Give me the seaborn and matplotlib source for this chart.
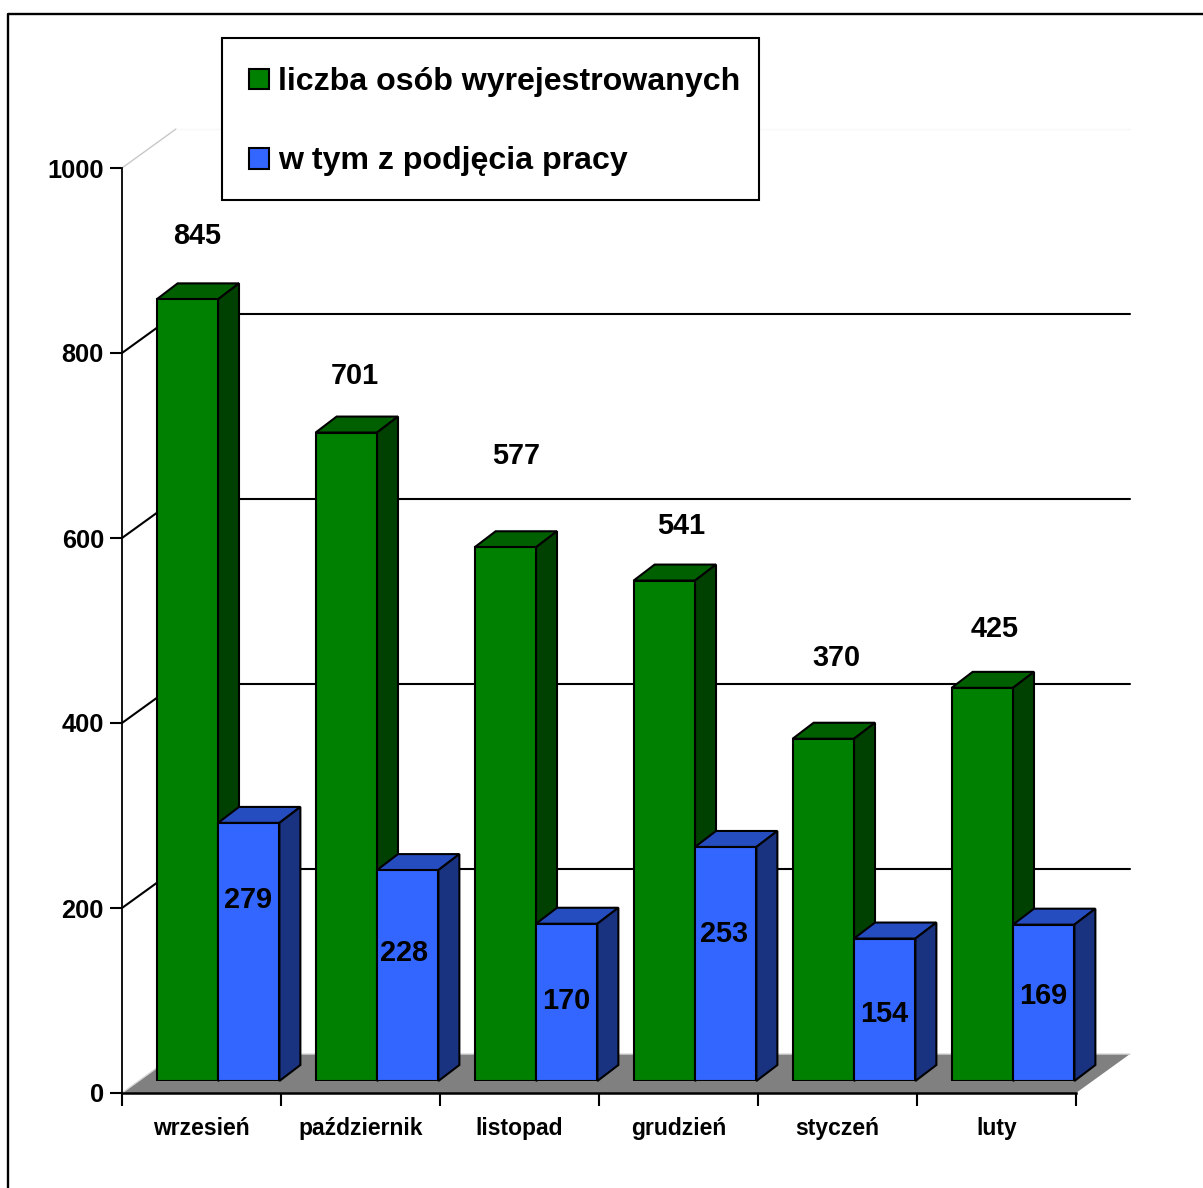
import numpy as np
import pandas as pd
import matplotlib.pyplot as plt
from matplotlib.lines import Line2D
from matplotlib.patches import Polygon, Rectangle
import seaborn as sns

# --- DATA ---
MONTHS = ["wrzesień", "październik", "listopad", "grudzień", "styczeń", "luty"]
SERIES_NAMES = ["liczba osób wyrejestrowanych", "w tym z podjęcia pracy"]
REGISTERED_OUT = [845, 701, 577, 541, 370, 425]
TOOK_JOB = [279, 228, 170, 253, 154, 169]
Y_TICKS = [0, 200, 400, 600, 800, 1000]

# label offsets from the top middle of each bar, in pixels
GREEN_LABEL_OFFSETS = [(10, 65), (8, 59), (11, 93), (17, 57), (13, 83), (12, 61)]
BLUE_LABEL_OFFSETS = [(-1, -75), (-4, -81), (0, -75), (-2, -85), (0, -73), (0, -69)]

# --- LAYOUT (pixels) ---
W, H = 1203, 1188
AX_LEFT, AX_RIGHT, AX_TOP, AX_BOTTOM = 122, 1076, 168, 1093
BAR_SHIFT_X, BAR_SHIFT_Y = 16.5, 12  # bars stand part way into the floor
WALL_DX, WALL_DY = 54, 39            # depth of the whole box
BAR_DX, BAR_DY = 21, 16              # depth of one bar

GREEN = ["#008000", "#006000", "#004000"]  # front, top, side
BLUE = ["#3366FF", "#264DBF", "#1A3380"]
FLOOR = "#808080"
LW = 1.5

sns.set_theme(style="white")
plt.rcParams["font.family"] = ["Liberation Sans", "DejaVu Sans"]
plt.rcParams["font.weight"] = "bold"

fig = plt.figure(figsize=(W / 100, H / 100), dpi=100)
ax_rect = [AX_LEFT / W, 1 - AX_BOTTOM / H, (AX_RIGHT - AX_LEFT) / W, (AX_BOTTOM - AX_TOP) / H]
ax = fig.add_axes(ax_rect, zorder=1)
ax_bars = fig.add_axes([ax_rect[0] + BAR_SHIFT_X / W, ax_rect[1] + BAR_SHIFT_Y / H, ax_rect[2], ax_rect[3]],
                       zorder=2, facecolor="none")

# outer frame runs off the right and bottom of the picture
fig.add_artist(Line2D([8 / W, 8 / W, 1], [0, 1 - 13.5 / H, 1 - 13.5 / H], color="black", lw=1.7))

# --- BOX: floor, walls, gridlines ---
ax.set_xlim(-0.5, 5.5)
ax.set_ylim(0, 1000)
px_x = len(MONTHS) / (AX_RIGHT - AX_LEFT)
px_y = 1000 / (AX_BOTTOM - AX_TOP)
wall_dx = WALL_DX * px_x
wall_dy = WALL_DY * px_y

ax.add_patch(Polygon([(-0.5, 0), (5.5, 0), (5.5 + wall_dx, wall_dy), (-0.5 + wall_dx, wall_dy)],
                     facecolor=FLOOR, edgecolor="none", clip_on=False, zorder=1))
ax.plot([-0.5, -0.5 + wall_dx, 5.5 + wall_dx], [0, wall_dy, wall_dy], color="#d8d8d8", lw=1,
        clip_on=False, zorder=1.2)
for tick in Y_TICKS[1:]:
    col = "#c8c8c8" if tick == 1000 else "black"
    ax.plot([-0.5, -0.5 + wall_dx], [tick, tick + wall_dy], color=col, lw=1 if tick == 1000 else LW,
            clip_on=False, zorder=1.5)
    ax.plot([-0.5 + wall_dx, 5.5 + wall_dx], [tick + wall_dy, tick + wall_dy],
            color="#f8f8f8" if tick == 1000 else "black", lw=1 if tick == 1000 else LW,
            clip_on=False, zorder=1.5)

sns.despine(ax=ax)
ax.spines["left"].set_color("black")
ax.spines["left"].set_linewidth(1.3)
ax.spines["bottom"].set_color("black")
ax.spines["bottom"].set_linewidth(1.8)
ax.set_yticks(Y_TICKS)
ax.tick_params(axis="y", left=True, length=9, width=1.5, color="black", labelsize=18.3, pad=4, labelcolor="black")
ax.set_xticks(np.arange(len(MONTHS) + 1) - 0.5)
ax.set_xticklabels([])
ax.tick_params(axis="x", which="major", bottom=True, length=9.4, width=1.5, color="black")
ax.set_xticks(np.arange(len(MONTHS)), MONTHS, minor=True)
ax.tick_params(axis="x", which="minor", bottom=False, length=0, labelsize=16.5, pad=17.5, labelcolor="black")

# --- BARS ---
df = pd.DataFrame({
    "month": MONTHS * 2,
    "value": REGISTERED_OUT + TOOK_JOB,
    "series": [SERIES_NAMES[0]] * len(MONTHS) + [SERIES_NAMES[1]] * len(MONTHS),
})
sns.barplot(data=df, x="month", y="value", hue="series", ax=ax_bars, width=0.772, gap=0,
            palette=[GREEN[0], BLUE[0]], saturation=1, edgecolor="black", linewidth=LW)
ax_bars.set_xlim(-0.5, 5.5)
ax_bars.set_ylim(0, 1000)
ax_bars.set_axis_off()

bar_dx = BAR_DX * px_x
bar_dy = BAR_DY * px_y
for s, (container, cols) in enumerate(zip(ax_bars.containers, [GREEN, BLUE])):
    for bar in container:
        x0, x1, top = bar.get_x(), bar.get_x() + bar.get_width(), bar.get_height()
        bar.set_zorder(3 + 2 * s)
        # top and side faces come off the seaborn bar
        ax_bars.add_patch(Polygon([(x0, top), (x1, top), (x1 + bar_dx, top + bar_dy), (x0 + bar_dx, top + bar_dy)],
                                  facecolor=cols[1], edgecolor="black", lw=LW, joinstyle="miter",
                                  clip_on=False, zorder=2 + 2 * s))
        ax_bars.add_patch(Polygon([(x1, 0), (x1 + bar_dx, bar_dy), (x1 + bar_dx, top + bar_dy), (x1, top)],
                                  facecolor=cols[2], edgecolor="black", lw=LW, joinstyle="miter",
                                  clip_on=False, zorder=2 + 2 * s))

for container, values, offsets in zip(ax_bars.containers, [REGISTERED_OUT, TOOK_JOB],
                                      [GREEN_LABEL_OFFSETS, BLUE_LABEL_OFFSETS]):
    for bar, val, off in zip(container, values, offsets):
        ax_bars.annotate(str(val), (bar.get_x() + bar.get_width() / 2, val), xytext=(off[0], off[1] - 2),
                         textcoords="offset pixels", ha="center", va="center",
                         fontsize=20.8, color="black", zorder=10, annotation_clip=False)

# --- LEGEND ---
# box drawn by hand so the entries can sit lower than the legend's even padding allows
ax_bars.add_patch(Rectangle((222 / W, 1 - 200 / H), 537 / W, 162 / H, transform=fig.transFigure,
                            facecolor="white", edgecolor="black", lw=LW, clip_on=False, zorder=19))
handles, labels = ax_bars.get_legend_handles_labels()
leg = ax_bars.legend(handles, labels, loc="upper left", bbox_to_anchor=(224 / W, 1 - 42 / H),
                     bbox_transform=fig.transFigure, borderaxespad=0, frameon=False,
                     fontsize=23.1, labelcolor="black", borderpad=0.79, labelspacing=1.53,
                     handlelength=0.62, handleheight=0.62, handletextpad=0.28, title=None)
leg.set_zorder(20)

fig.savefig("out.png", dpi=100)
